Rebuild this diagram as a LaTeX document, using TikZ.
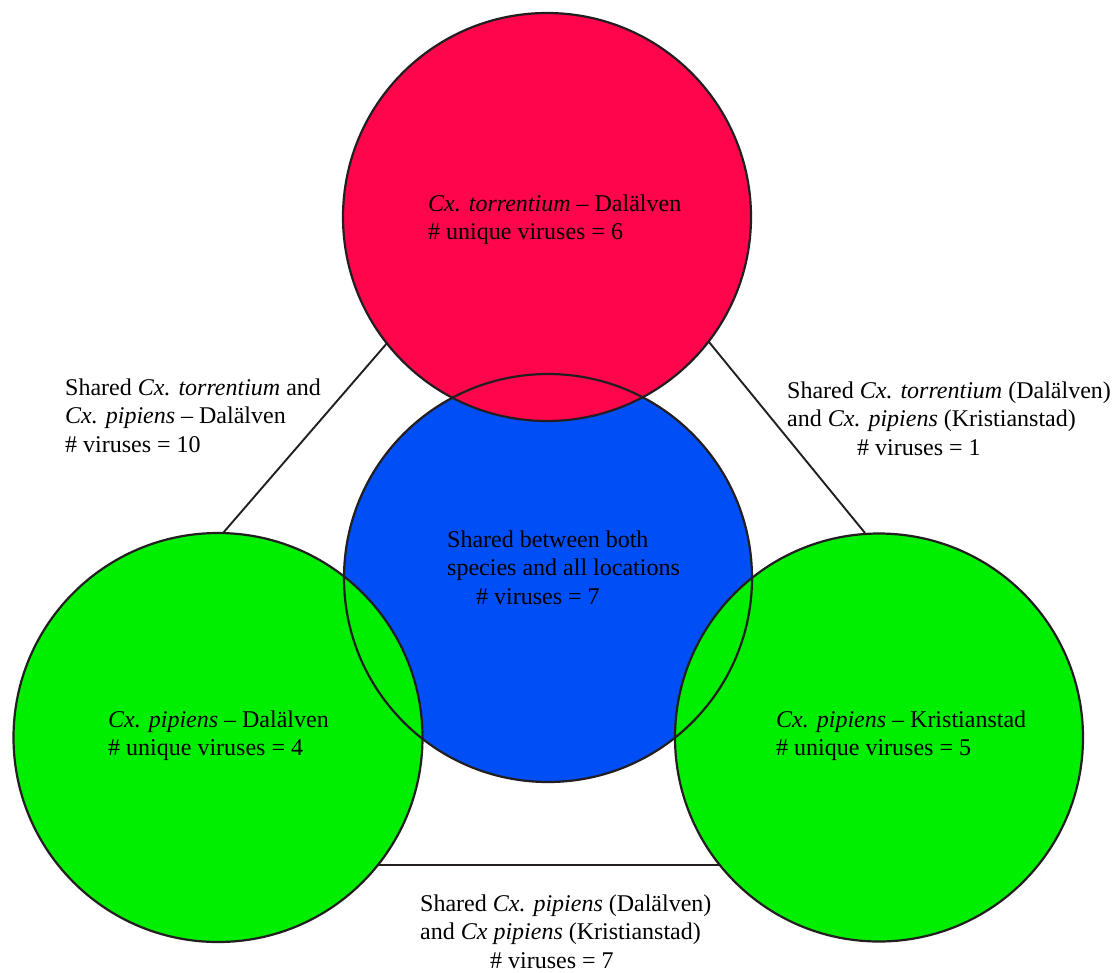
\documentclass[tikz,border=0pt]{standalone}
\usepackage{fontspec}
\setmainfont{Liberation Serif}
\definecolor{vred}{HTML}{FF054B}
\definecolor{vblue}{HTML}{004EF5}
\definecolor{vgreen}{HTML}{00EE00}
\definecolor{outl}{HTML}{231F20}
\newcommand\vlines[1]{\vtop{\halign{##\hfil\cr#1\crcr}}}
\begin{document}
\begin{tikzpicture}[x=1pt,y=-1pt,
  disc/.style={circle, inner sep=0pt, minimum size=408pt, draw=none},
  rim/.style={draw=outl, line width=2.2pt},
  link/.style={draw=outl, line width=1.9pt},
  lbl/.style={anchor=base west, inner sep=0pt, font=\fontsize{24}{28.5}\selectfont}]
\useasboundingbox (0,0) rectangle (1115,972);
% connector triangle behind the circles
\coordinate (apex) at (553,151);
\coordinate (lgtop) at (223,533);
\coordinate (rgtop) at (865,533);
\coordinate (bl) at (218,865);
\coordinate (br) at (879,865);
\draw[link] (apex) -- (lgtop);
\draw[link] (apex) -- (rgtop);
\draw[link] (bl) -- (br);
% fills
\node[disc, fill=vblue] (blue) at (548,578) {};
\node[disc, fill=vred] (red) at (547,217) {};
\node[disc, fill=vgreen, minimum size=409pt] (lgreen) at (218,737.5) {};
\node[disc, fill=vgreen] (rgreen) at (879,737.5) {};
% outlines
\draw[rim] (blue.center) circle[radius=204pt];
\draw[rim] (red.center) circle[radius=204pt];
\draw[rim] (lgreen.center) circle[radius=204.5pt];
\draw[rim] (rgreen.center) circle[radius=204pt];
% labels
\node[lbl] (tred) at (428,211) {\vlines{\textit{Cx. torrentium} – Dalälven\cr \# unique viruses = 6}};
\node[lbl] (tleft) at (65,395) {\vlines{Shared \textit{Cx. torrentium} and\cr \textit{Cx. pipiens} – Dalälven\cr \# viruses = 10}};
\node[lbl] (tright) at (787,398) {\vlines{Shared \textit{Cx. torrentium} (Dalälven)\cr and \textit{Cx. pipiens} (Kristianstad)\cr \hspace*{70pt}\# viruses = 1}};
\node[lbl] (tblue) at (447,547) {\vlines{Shared between both\cr species and all locations\cr \hspace*{29pt}\# viruses = 7}};
\node[lbl] (tlg) at (108,727) {\vlines{\textit{Cx. pipiens} – Dalälven\cr \# unique viruses = 4}};
\node[lbl] (trg) at (776,727) {\vlines{\textit{Cx. pipiens} – Kristianstad\cr \# unique viruses = 5}};
\node[lbl] (tbot) at (420,911) {\vlines{Shared \textit{Cx. pipiens} (Dalälven)\cr and \textit{Cx pipiens} (Kristianstad)\cr \hspace*{70pt}\# viruses = 7}};
\end{tikzpicture}
\end{document}
